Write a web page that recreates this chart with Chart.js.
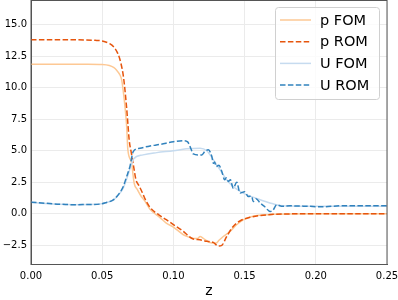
<!DOCTYPE html>
<html>
<head>
<meta charset="utf-8">
<script src="https://cdn.jsdelivr.net/npm/chart.js@4"></script>
<style>
  html, body { margin: 0; padding: 0; background: #fff; }
  #wrap { width: 398px; height: 300px; }
</style>
</head>
<body>
<div id="wrap"><canvas id="chart" width="398" height="300"></canvas></div>
<script>
// tick labels
const xTicks = [0, 0.05, 0.10, 0.15, 0.20, 0.25];
const yTicks = [-2.5, 0, 2.5, 5, 7.5, 10, 12.5, 15];

// series labels
const labels = ["p FOM", "p ROM", "U FOM", "U ROM"];

// p FOM
const pFomZ = [0, 0.02, 0.04, 0.05, 0.055, 0.058, 0.060, 0.0625, 0.0637, 0.0647, 0.066, 0.0672, 0.068, 0.0705, 0.0725, 0.0745, 0.077, 0.080, 0.0836, 0.0906, 0.095, 0.100, 0.107, 0.111, 0.114, 0.117, 0.1187, 0.121, 0.125, 0.130, 0.132, 0.135, 0.1397, 0.1444, 0.149, 0.154, 0.160, 0.170, 0.180, 0.200, 0.250];
const pFomV = [11.85, 11.85, 11.85, 11.83, 11.75, 11.6, 11.4, 11.0, 10.6, 9.8, 8.5, 6.9, 5.1, 4.1, 2.4, 1.95, 1.45, 1.0, 0.35, -0.3, -0.74, -1.05, -1.66, -1.85, -1.95, -1.95, -1.8, -1.95, -2.25, -2.32, -2.1, -1.8, -1.4, -0.87, -0.48, -0.25, -0.12, -0.04, -0.01, 0, 0];

// p ROM
const pRomZ = [0, 0.03, 0.045, 0.05, 0.055, 0.058, 0.061, 0.063, 0.065, 0.067, 0.068, 0.069, 0.0705, 0.072, 0.0737, 0.076, 0.0785, 0.080, 0.0836, 0.090, 0.095, 0.100, 0.107, 0.111, 0.114, 0.1187, 0.122, 0.125, 0.128, 0.1316, 0.134, 0.1374, 0.142, 0.147, 0.154, 0.1655, 0.180, 0.200, 0.250];
const pRomV = [13.8, 13.8, 13.75, 13.7, 13.5, 13.25, 12.7, 12.0, 10.8, 8.6, 7.2, 5.8, 4.8, 3.8, 2.7, 2.2, 1.6, 1.2, 0.5, -0.1, -0.47, -0.85, -1.4, -1.8, -2.0, -2.06, -2.15, -2.2, -2.27, -2.55, -2.5, -1.8, -1.0, -0.55, -0.28, -0.08, -0.01, 0, 0];

// U FOM
const uFomZ = [0, 0.01, 0.02, 0.03, 0.04, 0.0485, 0.053, 0.0578, 0.0625, 0.065, 0.067, 0.069, 0.0707, 0.072, 0.0787, 0.0883, 0.100, 0.109, 0.1187, 0.1234, 0.128, 0.1327, 0.1374, 0.142, 0.1468, 0.1515, 0.158, 0.164, 0.170, 0.177, 0.190, 0.250];
const uFomV = [0.92, 0.82, 0.75, 0.72, 0.73, 0.77, 0.9, 1.1, 1.65, 2.1, 2.7, 3.4, 4.0, 4.35, 4.67, 4.85, 5.0, 5.15, 5.2, 5.0, 4.3, 3.5, 2.7, 2.16, 1.77, 1.5, 1.24, 1.0, 0.79, 0.63, 0.6, 0.6];

// U ROM
const uRomZ = [0, 0.01, 0.02, 0.03, 0.04, 0.0485, 0.053, 0.0578, 0.0625, 0.0648, 0.067, 0.0695, 0.0718, 0.0765, 0.0836, 0.0906, 0.100, 0.107, 0.110, 0.1117, 0.114, 0.1175, 0.120, 0.122, 0.1245, 0.127, 0.128, 0.129, 0.130, 0.132, 0.134, 0.136, 0.1372, 0.1386, 0.140, 0.142, 0.1445, 0.1468, 0.150, 0.1526, 0.155, 0.156, 0.158, 0.161, 0.164, 0.168, 0.170, 0.1725, 0.176, 0.182, 0.1936, 0.205, 0.217, 0.250];
const uRomV = [0.92, 0.84, 0.76, 0.72, 0.74, 0.77, 0.9, 1.1, 1.7, 2.16, 2.9, 3.75, 4.93, 5.2, 5.38, 5.5, 5.72, 5.8, 5.7, 5.33, 4.75, 4.67, 4.67, 4.93, 5.07, 4.54, 4.0, 4.1, 3.75, 3.85, 3.35, 2.7, 2.85, 2.56, 2.7, 2.03, 2.5, 1.64, 1.75, 1.37, 1.4, 0.97, 1.2, 0.85, 0.58, 0.18, 0.3, 0.71, 0.6, 0.63, 0.6, 0.55, 0.63, 0.63];

const colors = ["#fdc894", "#e6550d", "#c6dbef", "#3182bd"];
const dashes = [[], [5.5, 2.4], [], [5.5, 2.4]];

function pts(zs, vs) {
  return zs.map((z, i) => ({ x: z, y: vs[i] }));
}

const series = [pts(pFomZ, pFomV), pts(pRomZ, pRomV), pts(uFomZ, uFomV), pts(uRomZ, uRomV)];

const datasets = series.map((d, i) => ({
  label: labels[i],
  data: d,
  borderColor: colors[i],
  borderWidth: 1.5,
  borderDash: dashes[i],
  pointRadius: 0,
  fill: false,
  tension: 0,
  cubicInterpolationMode: "monotone",
  order: 4 - i
}));

// frame on all four sides + legend box inside the plot, like matplotlib
const boxLegend = {
  id: "boxLegend",
  afterDraw(chart) {
    const ctx = chart.ctx;
    const a = chart.chartArea;
    ctx.save();
    ctx.strokeStyle = "#555";
    ctx.lineWidth = 1;
    ctx.strokeRect(a.left, a.top + 0.5, a.right - a.left, a.bottom - a.top);

    const x = 275.5, y = 7.5, w = 104, h = 92, r = 3;
    ctx.beginPath();
    ctx.roundRect(x, y, w, h, r);
    ctx.fillStyle = "rgba(255,255,255,0.8)";
    ctx.fill();
    ctx.strokeStyle = "#d0d0d0";
    ctx.stroke();
    ctx.font = "14.5px 'DejaVu Sans'";
    ctx.textBaseline = "middle";
    chart.data.datasets.forEach((ds, i) => {
      const ry = 20 + i * 21.7;
      ctx.beginPath();
      ctx.setLineDash(ds.borderDash);
      ctx.strokeStyle = ds.borderColor;
      ctx.lineWidth = 1.5;
      ctx.moveTo(280, ry);
      ctx.lineTo(311, ry);
      ctx.stroke();
      ctx.setLineDash([]);
      ctx.fillStyle = "#000";
      ctx.fillText(ds.label, 320, ry + 1);
    });
    ctx.restore();
  }
};

const ctx = document.getElementById("chart").getContext("2d");
new Chart(ctx, {
  type: "line",
  data: { datasets: datasets },
  plugins: [boxLegend],
  options: {
    responsive: false,
    animation: false,
    layout: { padding: { top: 0, right: 11, left: 0, bottom: 0 } },
    plugins: {
      legend: { display: false },
      tooltip: { enabled: false }
    },
    scales: {
      x: {
        type: "linear",
        min: 0,
        max: 0.25,
        afterBuildTicks: s => { s.ticks = xTicks.map(v => ({ value: v })); },
        afterFit: s => { s.height = 36; s.paddingLeft = 0; s.paddingRight = 0; },
        grid: { color: "#ebebeb", drawTicks: false },
        border: { color: "#555", width: 1 },
        ticks: {
          color: "#000",
          padding: 6,
          maxRotation: 0,
          font: { family: "DejaVu Sans", size: 10 },
          callback: v => v.toFixed(2)
        },
        title: {
          display: true,
          text: "z",
          color: "#000",
          padding: { top: 0, bottom: 0 },
          font: { family: "DejaVu Sans", size: 14 }
        }
      },
      y: {
        min: -3.98,
        max: 16.95,
        afterBuildTicks: s => { s.ticks = yTicks.map(v => ({ value: v })); },
        afterFit: s => { s.width = 31; s.paddingTop = 0; s.paddingBottom = 0; },
        grid: { color: "#ebebeb", drawTicks: false },
        border: { color: "#555", width: 1 },
        ticks: {
          color: "#000",
          padding: 4,
          font: { family: "DejaVu Sans", size: 10 },
          callback: v => (v < 0 ? "\u2212" + Math.abs(v).toFixed(1) : v.toFixed(1))
        }
      }
    }
  }
});
</script>
</body>
</html>
